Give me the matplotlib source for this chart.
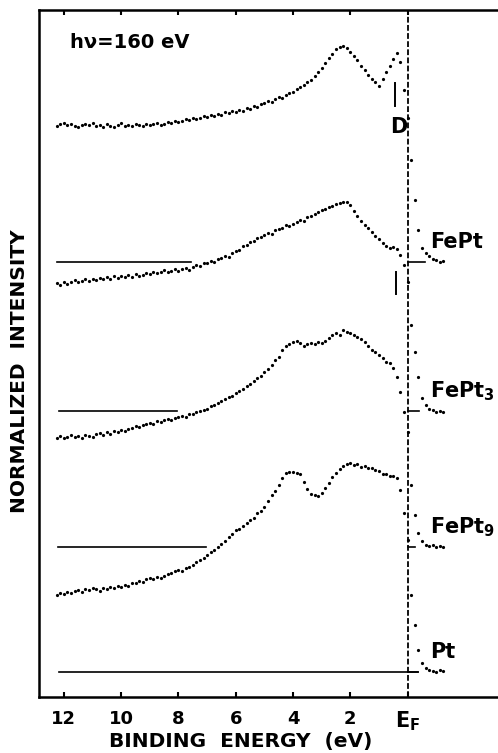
import numpy as np
import matplotlib
matplotlib.use("Agg")
import matplotlib.pyplot as plt

plt.rcParams['font.family'] = ['DejaVu Sans']
plt.rcParams['font.weight'] = 'bold'
plt.rcParams['mathtext.default'] = 'bf'

# binding energy grid (eV), measured in 0.125 eV steps
energy = np.arange(12.25, -1.26, -0.125)

# normalized intensities (arb. units)
fept = [13.6, 13.8, 13.9, 13.7, 13.8, 13.6, 13.5, 13.7,
        13.8, 13.7, 13.9, 13.6, 13.7, 13.5, 13.8, 13.6,
        13.5, 13.7, 13.9, 13.6, 13.7, 13.6, 13.8, 13.7,
        13.6, 13.8, 13.7, 13.8, 13.9, 13.7, 13.8, 14.0,
        13.9, 14.1, 14.0, 14.1, 14.3, 14.2, 14.4, 14.3,
        14.4, 14.6, 14.5, 14.7, 14.6, 14.8, 14.7, 15.0,
        14.9, 15.1, 15.0, 15.2, 15.1, 15.4, 15.3, 15.6,
        15.5, 15.8, 15.9, 16.1, 16.0, 16.3, 16.5, 16.4,
        16.7, 16.9, 17.0, 17.3, 17.5, 17.7, 18.0, 18.2,
        18.6, 19.0, 19.4, 19.9, 20.4, 20.8, 21.3, 21.5,
        21.6, 21.4, 21.0, 20.6, 20.2, 19.6, 19.2, 18.7,
        18.3, 18.0, 17.6, 18.3, 19.0, 19.6, 20.3, 20.9,
        20.0, 17.2, 14.4, 10.2, 6.2, 3.2, 1.4, 0.9,
        0.6, 0.3, 0.2, 0.0, 0.1]

fept3 = [12.8, 12.6, 12.9, 12.7, 12.9, 13.1, 12.9, 13.0,
         13.2, 13.0, 13.2, 13.1, 13.3, 13.2, 13.4, 13.2,
         13.5, 13.3, 13.5, 13.4, 13.6, 13.4, 13.7, 13.5,
         13.6, 13.8, 13.7, 13.9, 13.8, 13.9, 14.1, 13.9,
         14.0, 14.2, 14.0, 14.2, 14.3, 14.1, 14.4, 14.6,
         14.5, 14.8, 14.8, 15.0, 14.9, 15.2, 15.3, 15.5,
         15.4, 15.8, 16.0, 16.1, 16.5, 16.6, 16.9, 17.0,
         17.3, 17.4, 17.6, 17.8, 17.7, 18.1, 18.2, 18.3,
         18.6, 18.5, 18.7, 18.9, 19.1, 19.0, 19.4, 19.5,
         19.7, 19.9, 20.1, 20.2, 20.4, 20.5, 20.7, 20.8,
         20.9, 20.9, 20.6, 20.0, 19.5, 19.0, 18.6, 18.3,
         17.9, 17.5, 17.2, 16.8, 16.5, 16.3, 16.4, 16.2,
         15.6, 14.6, 12.9, 8.6, 5.9, 3.4, 1.3, 0.6,
         0.2, 0.1, -0.1, 0.0, -0.1]

fept9 = [10.9, 11.1, 10.9, 11.0, 11.2, 11.0, 11.1, 10.9,
         11.2, 11.1, 11.0, 11.3, 11.4, 11.2, 11.5, 11.3,
         11.6, 11.5, 11.7, 11.6, 11.8, 11.9, 12.1, 12.0,
         12.2, 12.3, 12.4, 12.3, 12.6, 12.5, 12.7, 12.8,
         12.7, 12.9, 13.0, 13.1, 13.0, 13.3, 13.3, 13.5,
         13.6, 13.7, 13.8, 14.1, 14.2, 14.4, 14.6, 14.8,
         15.0, 15.1, 15.4, 15.6, 15.8, 16.1, 16.3, 16.6,
         16.9, 17.1, 17.5, 17.8, 18.2, 18.7, 19.0, 19.7,
         20.1, 20.3, 20.5, 20.6, 20.4, 20.1, 20.3, 20.4,
         20.3, 20.5, 20.4, 20.6, 20.9, 21.2, 21.4, 21.2,
         21.7, 21.5, 21.4, 21.2, 21.0, 20.8, 20.5, 20.1,
         19.7, 19.5, 19.2, 18.9, 18.5, 18.4, 17.9, 17.0,
         15.5, 13.5, 11.5, 6.2, 3.2, 1.4, 0.6, 0.2,
         0.1, 0.2, 0.0, 0.1, 0.0]

pt = [7.7, 7.9, 7.8, 8.0, 7.9, 8.1, 8.2, 8.0,
      8.3, 8.2, 8.4, 8.3, 8.1, 8.4, 8.3, 8.5,
      8.4, 8.6, 8.5, 8.7, 8.6, 8.9, 8.9, 9.1,
      9.0, 9.3, 9.4, 9.3, 9.5, 9.4, 9.6, 9.8,
      9.9, 10.1, 10.2, 10.1, 10.4, 10.5, 10.7, 11.0,
      11.2, 11.4, 11.7, 12.0, 12.2, 12.5, 12.8, 13.1,
      13.5, 13.8, 14.2, 14.3, 14.6, 14.9, 15.2, 15.4,
      15.9, 16.1, 16.5, 17.1, 17.7, 18.1, 18.7, 19.4,
      19.9, 20.0, 20.0, 19.9, 19.8, 19.0, 18.3, 17.8,
      17.7, 17.6, 17.9, 18.4, 18.9, 19.5, 19.9, 20.3,
      20.6, 20.8, 20.9, 20.7, 20.8, 20.5, 20.6, 20.4,
      20.4, 20.2, 20.1, 19.8, 19.8, 19.6, 19.6, 19.4,
      18.2, 15.9, 13.2, 7.7, 4.7, 2.2, 0.9, 0.4,
      0.2, 0.1, 0.0, 0.2, 0.1]

spectra = [fept, fept3, fept9, pt]
names = ['FePt', 'FePt$_3$', 'FePt$_9$', 'Pt']
offsets = [43.5, 28.6, 15.0, 2.5]
# zero-intensity reference lines: (left part start, end), right part end
zero_left = [(12.25, 7.56), (12.17, 8.05), (12.2, 7.03), (12.17, -0.36)]
zero_right = [-0.6, -0.4, -0.25, -0.36]
label_y = [44.9, 30.0, 16.4, 3.9]

xticks = [12, 10, 8, 6, 4, 2, 0]
xticklabels = ['12', '10', '8', '6', '4', '2', '$E_F$']

fig = plt.figure(figsize=(4.98, 7.53), dpi=100)
ax = fig.add_axes([39/498, 56/753, 466/498, 687/753])

for y, off, (a, b), r, name, ly in zip(spectra, offsets, zero_left, zero_right, names, label_y):
    ax.plot(energy, np.array(y) + off, 'o', color='black', markersize=2.3, markeredgewidth=0)
    ax.plot([a, b], [off, off], color='black', lw=1.2)
    ax.plot([0, r], [off, off], color='black', lw=1.2)
    ax.text(-0.78, ly, name, fontsize=15, fontweight='bold', va='baseline', ha='left')

ax.axvline(0, color='black', lw=1.3, dashes=(3.2, 1.3))

# feature markers
ax.plot([0.44, 0.44], [59.1, 61.4], color='black', lw=1.4)
ax.text(0.30, 56.4, 'D', fontsize=15, fontweight='bold', ha='center', va='baseline')
ax.plot([0.42, 0.42], [40.3, 42.5], color='black', lw=1.4)

ax.text(11.79, 64.9, 'h\u03bd=160 eV', fontsize=14, fontweight='bold', va='baseline', ha='left')

ax.set_xlim(12.87, -3.40)
ax.set_ylim(0, 68.7)
ax.set_xticks(xticks)
ax.set_xticklabels(xticklabels)
ax.set_yticks([])
ax.tick_params(axis='x', direction='in', top=True, length=3.5, width=1.5, labelsize=13, pad=9)
ax.get_xticklabels()[-1].set_fontsize(15)
for s in ['left', 'bottom', 'top']:
    ax.spines[s].set_linewidth(1.8)
ax.spines['right'].set_visible(False)

fig.text(241/498, 1 - 742/753, 'BINDING  ENERGY  (eV)', fontsize=14.5, fontweight='bold', ha='center', va='center')
fig.text(20/498, 1 - 371/753, 'NORMALIZED  INTENSITY', fontsize=14.5, fontweight='bold', ha='center', va='center', rotation=90)

fig.savefig('out.png', dpi=100)
